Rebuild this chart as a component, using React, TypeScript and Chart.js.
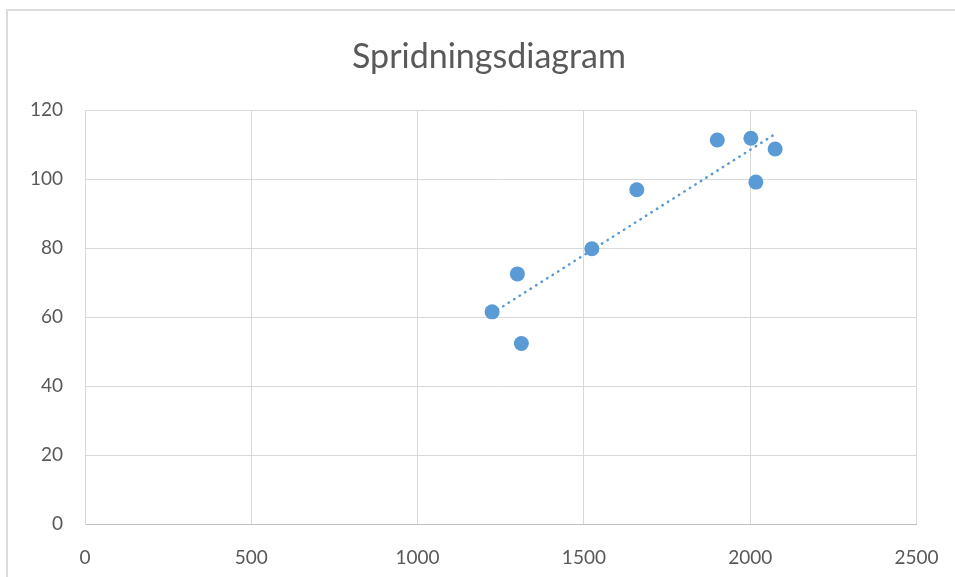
import React, { useEffect, useRef } from "react";
import { Chart, registerables } from "chart.js";

Chart.register(...registerables);

const TITLE = "Spridningsdiagram";
const xValues = [1224, 1300, 1312, 1524, 1659, 1901, 2002, 2017, 2075];
const yValues = [61.5, 72.5, 52.3, 79.8, 96.9, 111.3, 111.8, 99.1, 108.7];
const xTicks = [0, 500, 1000, 1500, 2000, 2500];
const yTicks = [0, 20, 40, 60, 80, 100, 120];

const BLUE = "#5b9bd5";
const TEXT = "#595959";
const GRID = "#d9d9d9";
const FONT = "Lato, 'Liberation Sans', sans-serif";

function linearFit(xs: number[], ys: number[]) {
  const n = xs.length;
  const mx = xs.reduce((a, b) => a + b, 0) / n;
  const my = ys.reduce((a, b) => a + b, 0) / n;
  let sxy = 0;
  let sxx = 0;
  for (let i = 0; i < n; i++) {
    sxy += (xs[i] - mx) * (ys[i] - my);
    sxx += (xs[i] - mx) * (xs[i] - mx);
  }
  const b = sxy / sxx;
  return { a: my - b * mx, b };
}

const titlePlugin = {
  id: "excelTitle",
  afterDraw(chart: any) {
    const ctx = chart.ctx;
    ctx.save();
    ctx.font = `normal 34px ${FONT}`;
    ctx.fillStyle = TEXT;
    ctx.textAlign = "center";
    ctx.textBaseline = "alphabetic";
    ctx.fillText(TITLE, 489, 67.5);
    ctx.restore();
  },
};

export default function App() {
  const ref = useRef<HTMLCanvasElement | null>(null);

  useEffect(() => {
    if (!ref.current) return;
    const pts = xValues.map((x, i) => ({ x, y: yValues[i] }));
    const { a, b } = linearFit(xValues, yValues);
    const minX = Math.min(...xValues);
    const maxX = Math.max(...xValues);
    const trend = [
      { x: minX, y: a + b * minX },
      { x: maxX, y: a + b * maxX },
    ];
    const chart = new Chart(ref.current, {
      type: "scatter",
      data: {
        datasets: [
          {
            label: "Trend",
            data: trend,
            showLine: true,
            borderColor: BLUE,
            borderWidth: 2.5,
            borderDash: [0.5, 6],
            borderCapStyle: "round",
            pointRadius: 0,
            order: 2,
          } as any,
          {
            label: "Data",
            data: pts,
            backgroundColor: BLUE,
            borderColor: BLUE,
            pointRadius: 7.5,
            pointBorderWidth: 0,
            order: 1,
          },
        ],
      },
      plugins: [titlePlugin],
      options: {
        animation: false,
        responsive: false,
        maintainAspectRatio: false,
        layout: { padding: { left: 0, right: 38.5, top: 110, bottom: 0 } },
        plugins: {
          legend: { display: false },
          tooltip: { enabled: false },
          title: { display: false },
        },
        scales: {
          x: {
            type: "linear",
            min: 0,
            max: 2500,
            afterBuildTicks: (s: any) => {
              s.ticks = xTicks.map((v) => ({ value: v }));
            },
            afterFit: (s: any) => {
              s.height = 53;
              s.paddingLeft = 0;
              s.paddingRight = 0;
            },
            grid: { color: GRID, drawTicks: false, lineWidth: 1 },
            border: { color: "#bfbfbf", width: 1 },
            ticks: {
              color: TEXT,
              font: { family: FONT, size: 19, lineHeight: 1.2 },
              padding: 22.6,
              maxRotation: 0,
              callback: (v: any) => String(v),
            },
          },
          y: {
            type: "linear",
            min: 0,
            max: 120,
            afterBuildTicks: (s: any) => {
              s.ticks = yTicks.map((v) => ({ value: v }));
            },
            afterFit: (s: any) => {
              s.width = 85;
              s.paddingTop = 0;
              s.paddingBottom = 0;
            },
            grid: { color: GRID, drawTicks: false, lineWidth: 1 },
            border: { color: GRID, width: 1 },
            ticks: {
              color: TEXT,
              font: { family: FONT, size: 19, lineHeight: 1.2 },
              padding: 22,
              callback: (v: any) => String(v),
            },
          },
        },
      },
    });
    return () => chart.destroy();
  }, []);

  return (
    <div style={{ position: "fixed", left: 0, top: 0, width: 955, height: 577, background: "#fff", overflow: "hidden" }}>
      <div
        style={{
          position: "absolute",
          left: 6,
          top: 9,
          width: 1000,
          height: 700,
          border: "2px solid #dcdcdc",
          boxSizing: "border-box",
        }}
      />
      <canvas ref={ref} width={955} height={577} style={{ position: "absolute", left: 0, top: 0 }} />
    </div>
  );
}
